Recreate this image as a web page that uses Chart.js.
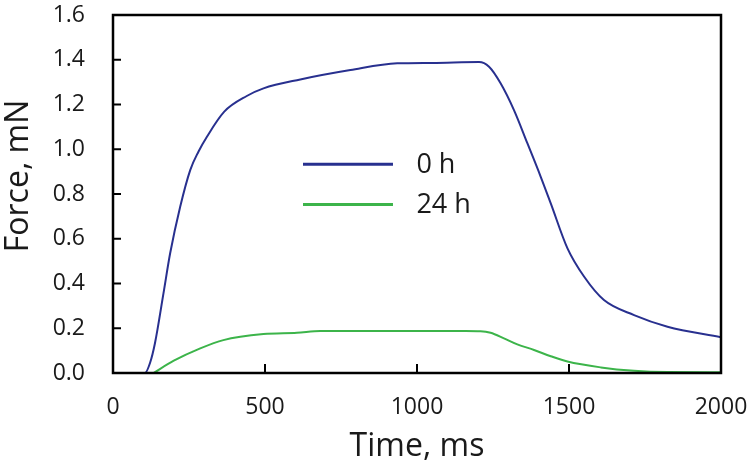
<!DOCTYPE html>
<html>
<head>
<meta charset="utf-8">
<script src="https://cdn.jsdelivr.net/npm/chart.js@4.4.1/dist/chart.umd.min.js"></script>
<style>
  body { margin: 0; background: #fff; }
</style>
</head>
<body>
<canvas id="grafico" width="750" height="467"></canvas>
<script>
// curva 0 h (tiempo en ms, fuerza en mN)
const time0 = [0, 60, 105, 122, 138, 166, 188, 221, 254, 281, 309, 366, 440, 495, 616, 781, 935, 1050, 1204, 1237, 1275, 1319, 1363, 1407, 1440, 1495, 1550, 1615, 1714, 1824, 2000];
const force0 = [0, 0, 0, 0.046, 0.133, 0.356, 0.535, 0.743, 0.907, 0.989, 1.056, 1.168, 1.238, 1.272, 1.312, 1.354, 1.384, 1.386, 1.39, 1.369, 1.295, 1.175, 1.027, 0.877, 0.758, 0.557, 0.43, 0.326, 0.259, 0.207, 0.16];
// curva 24 h
const time24 = [133, 200, 287, 363, 495, 605, 682, 900, 1160, 1209, 1242, 1286, 1330, 1385, 1440, 1495, 1605, 1714, 1824, 2000];
const force24 = [0, 0.055, 0.11, 0.147, 0.174, 0.18, 0.188, 0.188, 0.188, 0.187, 0.18, 0.155, 0.128, 0.103, 0.075, 0.051, 0.025, 0.01, 0.004, 0.003];

const seriesLabels = ["0 h", "24 h"];
const seriesColors = ["#28308f", "#3cb44a"];
const xTicks = [0, 500, 1000, 1500, 2000];
const yTicks = [0, 0.2, 0.4, 0.6, 0.8, 1.0, 1.2, 1.4, 1.6];

const toPoints = (xs, ys) => xs.map((x, i) => ({ x: x, y: ys[i] }));

const FONT = "'Open Sans', 'Noto Sans', sans-serif";

// quita el relleno automatico de las escalas
const noPad = (s) => {
  s.paddingTop = 0;
  s.paddingBottom = 0;
  s.paddingLeft = 0;
  s.paddingRight = 0;
};

// marco, ticks hacia adentro, leyenda y titulo del eje y
const frame = {
  id: "frame",
  afterDraw(chart) {
    const { ctx, chartArea: a, scales } = chart;
    ctx.save();
    ctx.strokeStyle = "#000";
    ctx.lineWidth = 2.5;
    ctx.strokeRect(a.left, a.top, a.right - a.left, a.bottom - a.top);
    ctx.lineWidth = 2;
    ctx.beginPath();
    scales.x.ticks.forEach((t) => {
      if (t.value <= 0 || t.value >= 2000) return;
      const px = scales.x.getPixelForValue(t.value);
      ctx.moveTo(px, a.bottom);
      ctx.lineTo(px, a.bottom - 9);
    });
    scales.y.ticks.forEach((t) => {
      if (t.value <= 0 || t.value >= 1.6) return;
      const py = scales.y.getPixelForValue(t.value);
      ctx.moveTo(a.left, py);
      ctx.lineTo(a.left + 8, py);
    });
    ctx.stroke();

    // leyenda
    const w = a.right - a.left;
    const h = a.bottom - a.top;
    const rows = [0.417, 0.529];
    chart.data.datasets.forEach((ds, i) => {
      const y = a.top + h * rows[i];
      ctx.strokeStyle = ds.borderColor;
      ctx.lineWidth = 3;
      ctx.beginPath();
      ctx.moveTo(a.left + w * 0.3125, y);
      ctx.lineTo(a.left + w * 0.4605, y);
      ctx.stroke();
      ctx.fillStyle = "#1a1a1a";
      ctx.font = "27px " + FONT;
      ctx.textBaseline = "middle";
      ctx.textAlign = "left";
      ctx.fillText(ds.label, a.left + w * 0.499, y + 1);
    });

    // titulo eje y
    ctx.translate(19, 176);
    ctx.rotate(-Math.PI / 2);
    ctx.font = "32px " + FONT;
    ctx.textAlign = "center";
    ctx.textBaseline = "middle";
    ctx.fillText("Force, mN", 0, 0);
    ctx.restore();
  },
};

const datasets = [
  {
    label: seriesLabels[0],
    data: toPoints(time0, force0),
    borderColor: seriesColors[0],
  },
  {
    label: seriesLabels[1],
    data: toPoints(time24, force24),
    borderColor: seriesColors[1],
  },
].map((d) => ({
  ...d,
  borderWidth: 2,
  pointRadius: 0,
  fill: false,
  cubicInterpolationMode: "monotone",
}));

const config = {
  type: "line",
  data: { datasets },
  options: {
    responsive: false,
    animation: false,
    layout: { padding: { top: 15, right: 29, left: 0, bottom: 0 } },
    plugins: { legend: { display: false }, tooltip: { enabled: false } },
    scales: {
      x: {
        type: "linear",
        min: 0,
        max: 2000,
        afterFit: (s) => { s.height = 94; noPad(s); },
        afterBuildTicks: (s) => { s.ticks = xTicks.map((v) => ({ value: v })); },
        grid: { display: false, drawTicks: false },
        border: { display: false },
        ticks: {
          padding: 21,
          color: "#1a1a1a",
          font: { family: FONT, size: 23 },
          maxRotation: 0,
          callback: (v) => String(v),
        },
        title: {
          display: true,
          text: "Time, ms",
          color: "#1a1a1a",
          font: { family: FONT, size: 32, lineHeight: 1 },
          padding: { top: 0, bottom: 4 },
        },
      },
      y: {
        min: 0,
        max: 1.6,
        afterFit: (s) => { s.width = 113; noPad(s); },
        afterBuildTicks: (s) => { s.ticks = yTicks.map((v) => ({ value: v })); },
        grid: { display: false, drawTicks: false },
        border: { display: false },
        ticks: {
          padding: 28,
          color: "#1a1a1a",
          font: { family: FONT, size: 23 },
          callback: (v) => v.toFixed(1),
        },
      },
    },
  },
  plugins: [frame],
};

const chart = new Chart(document.getElementById("grafico"), config);
</script>
</body>
</html>
